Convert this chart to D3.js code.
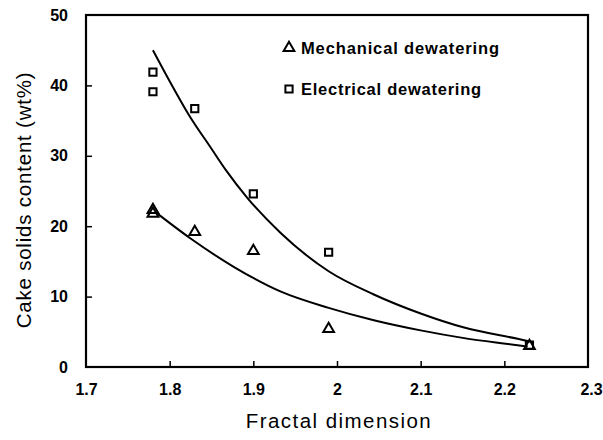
<!DOCTYPE html>
<html><head><meta charset="utf-8">
<script src="https://cdn.jsdelivr.net/npm/d3@7"></script>
<style>body{margin:0;background:#fff}svg{display:block}text{font-family:"Liberation Sans",Arial,sans-serif;fill:#000}</style>
</head><body><svg id="c" width="603" height="440"></svg>
<script>
// Data
const xTicks = [1.7, 1.8, 1.9, 2.0, 2.1, 2.2, 2.3];
const yTicks = [0, 10, 20, 30, 40, 50];
const elecX = [1.78, 1.78, 1.83, 1.90, 1.99, 2.23];
const elecY = [41.9, 39.1, 36.7, 24.6, 16.3, 3.1];
const mechX = [1.78, 1.78, 1.83, 1.90, 1.99, 2.23];
const mechY = [22.3, 21.8, 19.2, 16.5, 5.4, 3.0];
const elecFitX = [1.78, 1.80, 1.823, 1.85, 1.867, 1.893, 1.933, 1.99, 2.044, 2.10, 2.152, 2.216, 2.228];
const elecFitY = [45.0, 40.6, 35.8, 31.0, 28.0, 24.0, 19.0, 13.6, 10.3, 7.6, 5.6, 4.0, 3.7];
const mechFitX = [1.783, 1.825, 1.877, 1.933, 1.99, 2.044, 2.10, 2.152, 2.216, 2.228];
const mechFitY = [22.0, 18.25, 14.2, 10.7, 8.4, 6.64, 5.2, 4.1, 3.1, 2.9];
const legendLabels = ["Mechanical dewatering", "Electrical dewatering"];

const svg = d3.select("#c");
const L = 86, R = 588, T = 15, B = 367;
const x = d3.scaleLinear().domain([1.7, 2.3]).range([L, R]);
const y = d3.scaleLinear().domain([0, 50]).range([B, T]);

// stretch a text to a measured length via letter-spacing
function fit(sel, target) {
  sel.each(function () {
    const n = this.textContent.length;
    const len = this.getComputedTextLength();
    d3.select(this).attr("letter-spacing", ((target - len) / (n - 1)).toFixed(2));
  });
}

// frame
svg.append("rect").attr("x", L).attr("y", T).attr("width", R - L).attr("height", B - T)
  .attr("fill", "none").attr("stroke", "#000").attr("stroke-width", 2.2);

const xAxis = svg.append("g").attr("transform", `translate(0,${B})`)
  .call(d3.axisBottom(x).tickValues(xTicks).tickSize(-6).tickPadding(20).tickFormat(d3.format("")));
const yAxis = svg.append("g").attr("transform", `translate(${L},0)`)
  .call(d3.axisLeft(y).tickValues(yTicks).tickSize(-6).tickPadding(18));
[xAxis, yAxis].forEach(g => {
  g.select(".domain").remove();
  g.selectAll(".tick line").attr("stroke", "#000").attr("stroke-width", 1.5);
  g.selectAll(".tick text").attr("font-size", 16).attr("font-weight", "bold")
    .attr("font-family", '"Liberation Sans",Arial,sans-serif').attr("fill", "#000");
});
xAxis.selectAll(".tick").filter(d => d === 1.7 || d === 2.3).select("line").remove();
yAxis.selectAll(".tick").filter(d => d === 0 || d === 50).select("line").remove();
xAxis.selectAll(".tick text").attr("dy", "0.5em");
xAxis.selectAll(".tick").filter(d => d === 2.3).select("text").attr("dx", 3);

// axis titles
const xt = svg.append("text").attr("x", 339).attr("y", 428).attr("text-anchor", "middle")
  .attr("font-size", 20.5).text("Fractal dimension");
fit(xt, 185);
const yt = svg.append("text").attr("transform", "translate(31,200) rotate(-90)").attr("text-anchor", "middle")
  .attr("font-size", 20.5).text("Cake solids content (wt%)");
fit(yt, 256);

// fitted curves
const line = d3.line().x(d => x(d[0])).y(d => y(d[1])).curve(d3.curveMonotoneX);
svg.append("path").datum(d3.zip(elecFitX, elecFitY)).attr("d", line)
  .attr("fill", "none").attr("stroke", "#000").attr("stroke-width", 2);
svg.append("path").datum(d3.zip(mechFitX, mechFitY)).attr("d", line)
  .attr("fill", "none").attr("stroke", "#000").attr("stroke-width", 2);

// markers
const sq = d3.symbol().type(d3.symbolSquare).size(52);
const tri = d3.symbol().type(d3.symbolTriangle).size(50);
svg.append("g").selectAll("path").data(d3.zip(mechX, mechY)).join("path")
  .attr("d", tri).attr("transform", d => `translate(${x(d[0])},${y(d[1])})`)
  .attr("fill", "none").attr("stroke", "#000").attr("stroke-width", 2);
svg.append("g").selectAll("path").data(d3.zip(elecX, elecY)).join("path")
  .attr("d", sq).attr("transform", d => `translate(${x(d[0])},${y(d[1])})`)
  .attr("fill", "none").attr("stroke", "#000").attr("stroke-width", 2);

// legend
const leg = svg.append("g");
leg.append("path").attr("d", tri).attr("transform", "translate(289,48)")
  .attr("fill", "none").attr("stroke", "#000").attr("stroke-width", 2);
leg.append("path").attr("d", sq).attr("transform", "translate(289,89)")
  .attr("fill", "none").attr("stroke", "#000").attr("stroke-width", 2);
const lt = leg.selectAll("text").data(legendLabels).join("text")
  .attr("x", 301).attr("y", (d, i) => 54 + i * 41).attr("font-size", 16.5)
  .attr("font-weight", "bold").text(d => d);
fit(lt.filter((d, i) => i === 0), 198);
fit(lt.filter((d, i) => i === 1), 180);
</script></body></html>
